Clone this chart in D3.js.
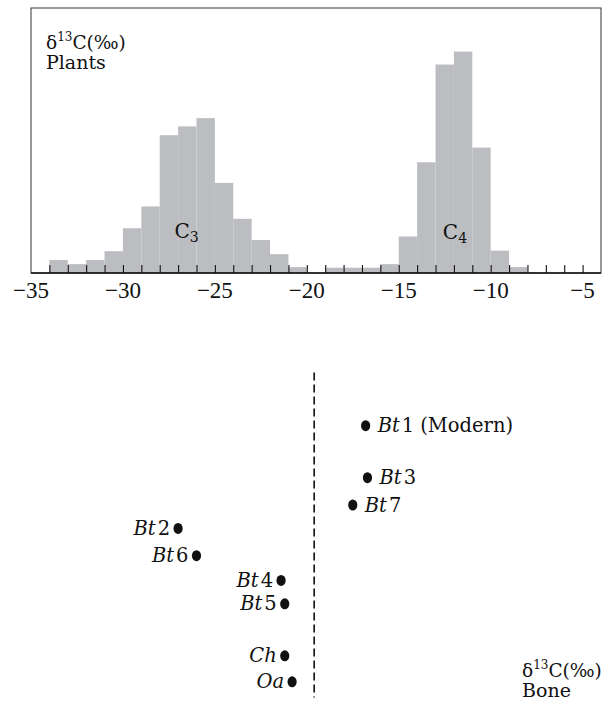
<!DOCTYPE html>
<html>
<head>
<meta charset="utf-8">
<script src="https://cdn.jsdelivr.net/npm/d3@7"></script>
<style>
    body { margin: 0; background: #fff; }
    text { font-family: 'DejaVu Serif', serif; fill: #111; }
    .ticklabel { font-family: 'Liberation Serif', 'Times New Roman', serif; }
</style>
</head>
<body>
<svg id="chart" width="608" height="701"></svg>
<script>
// plant histogram, 1 per mil bins (left edge of each bin)
const binStart = [-34, -33, -32, -31, -30, -29, -28, -27, -26, -25, -24, -23, -22,
                  -21, -20, -19, -18, -17, -16, -15, -14, -13, -12, -11, -10, -9]
const plantFreq = [2.2, 1.5, 2.2, 3.7, 7.6, 11.3, 23.4, 24.9, 26.3, 15.3, 9.2, 5.6, 3.2,
                   1.0, 0, 0.9, 0.9, 0.9, 1.5, 6.2, 18.8, 35.4, 37.6, 21.3, 3.8, 1.0]
const tickLabels = [-35, -30, -25, -20, -15, -10, -5]

// bone samples
const boneGenus = ['Bt', 'Bt', 'Bt', 'Bt', 'Bt', 'Bt', 'Bt', 'Ch', 'Oa']
const boneNum = ['1', '3', '7', '2', '6', '4', '5', '', '']
const boneNote = ['(Modern)', '', '', '', '', '', '', '', '']
const boneD13C = [-16.8, -16.7, -17.5, -27.0, -26.0, -21.4, -21.2, -21.2, -20.8]
const boneRow = [0, 2, 3.05, 3.95, 5, 5.95, 6.85, 8.85, 9.85]
const boneSide = ['right', 'right', 'right', 'left', 'left', 'left', 'left', 'left', 'left']
const cutoff = -19.6

let svg = d3.select('#chart')

let x = d3.scaleLinear().domain([-35, -4]).range([31, 601])
let y = d3.scaleLinear().domain([0, 45]).range([273, 8])
let yBone = d3.scaleLinear().domain([-2, 10.5]).range([373.7, 698.7])

//bars
svg.selectAll('.bar')
    .data(plantFreq)
    .enter()
    .append('rect')
    .attr('class', 'bar')
    .attr('x', (d, i) => x(binStart[i]))
    .attr('width', (d, i) => x(binStart[i] + 1) - x(binStart[i]))
    .attr('y', d => y(d))
    .attr('height', d => y(0) - y(d))
    .style('fill', '#bcbdc0')

//frame
svg.append('rect')
    .attr('x', x(-35))
    .attr('y', y(45))
    .attr('width', x(-4) - x(-35))
    .attr('height', y(0) - y(45))
    .style('fill', 'none')
    .style('stroke', '#333')
    .style('stroke-width', 1)

//x axis, small inward ticks every unit
let xAxis = d3.axisTop(x)
    .tickValues(d3.range(-34, -4))
    .tickSize(8)
    .tickFormat('')
svg.append('g')
    .attr('transform', `translate(0, ${y(0)})`)
    .call(xAxis)
    .call(g => g.select('.domain').remove())
    .call(g => g.selectAll('line').style('stroke', '#111').style('stroke-width', 1.1))
svg.append('line')
    .attr('x1', x(-35)).attr('x2', x(-4))
    .attr('y1', y(0)).attr('y2', y(0))
    .style('stroke', '#111')
    .style('stroke-width', 1.6)

svg.selectAll('.ticklabel')
    .data(tickLabels)
    .enter()
    .append('text')
    .attr('class', 'ticklabel')
    .attr('x', d => x(d))
    .attr('y', 298)
    .attr('text-anchor', 'middle')
    .style('font-size', '23px')
    .text(d => '\u2212' + Math.abs(d))

//titles
function isoLabel(px, py, second) {
    let t = svg.append('text')
        .attr('x', px)
        .attr('y', py)
        .style('font-size', '18.5px')
    t.append('tspan').text('\u03b4')
    t.append('tspan').attr('dy', -8).style('font-size', '12px').text('13')
    t.append('tspan').attr('dy', 8).text('C(\u2030)')
    svg.append('text')
        .attr('x', px)
        .attr('y', py + 20)
        .style('font-size', '19px')
        .text(second)
}
isoLabel(46, 49, 'Plants')
isoLabel(522, 677, 'Bone')

//C3 / C4 labels
function pathLabel(px, py, sub) {
    let t = svg.append('text')
        .attr('x', px)
        .attr('y', py)
        .style('font-size', '20px')
    t.append('tspan').text('C')
    t.append('tspan').attr('dy', 4).style('font-size', '14px').text(sub)
}
pathLabel(x(-27.2), 238, '3')
pathLabel(x(-12.6), 239, '4')

//dashed divider
svg.append('line')
    .attr('x1', x(cutoff)).attr('x2', x(cutoff))
    .attr('y1', yBone(-2.05)).attr('y2', yBone(10.45))
    .style('stroke', '#111')
    .style('stroke-width', 1.6)
    .style('stroke-dasharray', '8,4')

//bone points
svg.selectAll('.dot')
    .data(boneD13C)
    .enter()
    .append('ellipse')
    .attr('class', 'dot')
    .attr('cx', d => x(d))
    .attr('cy', (d, i) => yBone(boneRow[i]))
    .attr('rx', 4.6)
    .attr('ry', 5.5)
    .style('fill', '#111')

let labels = svg.selectAll('.bonelabel')
    .data(boneD13C)
    .enter()
    .append('text')
    .attr('class', 'bonelabel')
    .attr('x', (d, i) => boneSide[i] == 'right' ? x(d) + 12 : x(d) - 8)
    .attr('y', (d, i) => yBone(boneRow[i]) + 6.5)
    .attr('text-anchor', (d, i) => boneSide[i] == 'right' ? 'start' : 'end')
    .style('font-size', '19.5px')
labels.append('tspan')
    .style('font-style', 'italic')
    .text((d, i) => boneGenus[i])
labels.append('tspan')
    .attr('dx', (d, i) => boneNum[i] ? 2 : 0)
    .text((d, i) => boneNum[i])
labels.append('tspan')
    .attr('dx', (d, i) => boneNote[i] ? 6 : 0)
    .text((d, i) => boneNote[i])
</script>
</body>
</html>
